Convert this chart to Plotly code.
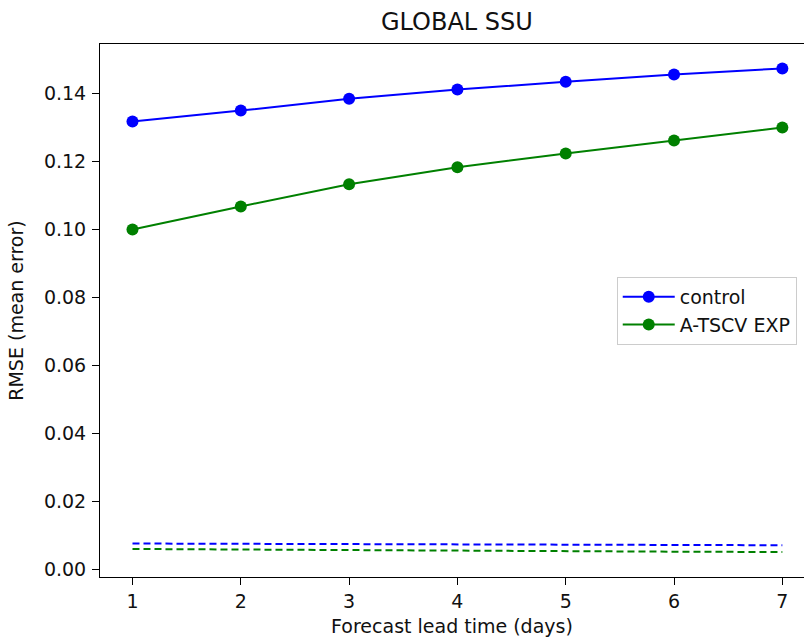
import plotly.graph_objects as go

days = [1, 2, 3, 4, 5, 6, 7]
control_rmse = [0.1317, 0.1349, 0.1384, 0.1411, 0.1434, 0.1455, 0.1473]
exp_rmse = [0.0999, 0.1067, 0.1132, 0.1182, 0.1223, 0.1261, 0.1299]
control_mean_err = [0.0075, 0.0074, 0.0073, 0.0072, 0.0071, 0.0071, 0.0070]
exp_mean_err = [0.0059, 0.0057, 0.0055, 0.0054, 0.0052, 0.0051, 0.0050]
y_ticks = [0.00, 0.02, 0.04, 0.06, 0.08, 0.10, 0.12, 0.14]
y_tick_labels = ["0.00", "0.02", "0.04", "0.06", "0.08", "0.10", "0.12", "0.14"]

BLUE = "#0000ff"
GREEN = "#008000"
FONT = "DejaVu Sans"
TXT = "#111111"

fig = go.Figure()
fig.add_trace(go.Scatter(x=days, y=control_rmse, mode="lines+markers", name="control",
                         line=dict(color=BLUE, width=2), marker=dict(color=BLUE, size=12)))
fig.add_trace(go.Scatter(x=days, y=exp_rmse, mode="lines+markers", name="A-TSCV EXP",
                         line=dict(color=GREEN, width=2), marker=dict(color=GREEN, size=12)))
fig.add_trace(go.Scatter(x=days, y=control_mean_err, mode="lines", showlegend=False,
                         line=dict(color=BLUE, width=2, dash="7px,4px")))
fig.add_trace(go.Scatter(x=days, y=exp_mean_err, mode="lines", showlegend=False,
                         line=dict(color=GREEN, width=2, dash="7px,4px")))

fig.update_layout(
    width=804, height=637,
    margin=dict(l=100, r=0, t=44, b=60, autoexpand=False),
    paper_bgcolor="white", plot_bgcolor="white",
    font=dict(family=FONT, size=19, color=TXT),
    title=dict(text="GLOBAL SSU", x=0.507, xref="paper", xanchor="center",
               y=1 - 22 / 637, yref="container", yanchor="middle",
               font=dict(family=FONT, size=24, color=TXT)),
    showlegend=True,
    legend=dict(x=0.734, y=0.563, xanchor="left", yanchor="top",
                bordercolor="#cccccc", borderwidth=1, bgcolor="white",
                font=dict(family=FONT, size=19), itemwidth=52,
                tracegroupgap=0),
    hovermode=False,
)
fig.update_xaxes(range=[0.7, 7.2], tickvals=days, ticktext=[str(d) for d in days],
                 showgrid=False, zeroline=False, showline=True, linecolor="black", linewidth=1,
                 mirror=True, ticks="outside", ticklen=7, tickcolor="black",
                 tickfont=dict(family=FONT, size=19, color=TXT), automargin=False,
                 title=dict(text="Forecast lead time (days)",
                            font=dict(family=FONT, size=19, color=TXT)))
fig.update_yaxes(range=[-0.00235, 0.1545], tickvals=y_ticks, ticktext=y_tick_labels,
                 showgrid=False, zeroline=False, showline=True, linecolor="black", linewidth=1,
                 mirror=False, ticks="outside", ticklen=7, tickcolor="black",
                 ticklabelstandoff=2,
                 tickfont=dict(family=FONT, size=19, color=TXT), automargin=False,
                 title=dict(text="RMSE (mean error)",
                            font=dict(family=FONT, size=19, color=TXT)))

fig.write_html("out.html", config={"displayModeBar": False},
               post_script="document.body.style.margin='0';document.body.style.overflow='hidden';")
